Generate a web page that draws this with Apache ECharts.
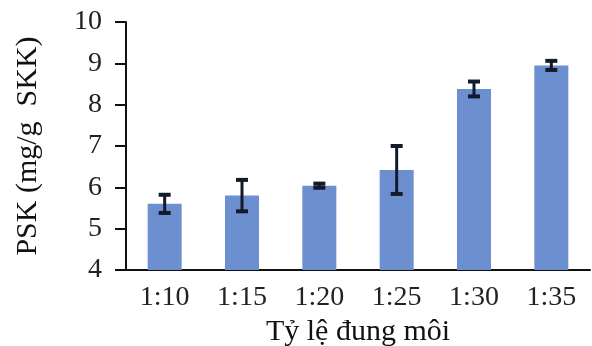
<!DOCTYPE html>
<html>
<head>
<meta charset="utf-8">
<script src="https://cdn.jsdelivr.net/npm/echarts@6/dist/echarts.min.js"></script>
<style>
  html, body { margin: 0; padding: 0; background: #ffffff; }
  #chart { width: 592px; height: 346px; }
</style>
</head>
<body>
<div id="chart"></div>
<script>
// Solvent ratio categories
const ratios = ['1:10', '1:15', '1:20', '1:25', '1:30', '1:35'];
// Mean PSK content (mg/g SKK)
const pskMean = [5.6, 5.8, 6.04, 6.42, 8.38, 8.95];
// Standard deviation for each mean
const pskErr = [0.22, 0.38, 0.05, 0.58, 0.18, 0.11];
// Value axis ticks
const yMin = 4, yMax = 10, yStep = 1;

const fontFamily = '"Liberation Serif", "Times New Roman", serif';
const errData = ratios.map((_, i) => [i, pskMean[i] - pskErr[i], pskMean[i] + pskErr[i]]);

const chart = echarts.init(document.getElementById('chart'));
chart.setOption({
  animation: false,
  grid: { left: 126, right: 2, top: 22, bottom: 76, containLabel: false, outerBoundsMode: 'none' },
  xAxis: {
    type: 'category',
    data: ratios,
    name: 'Tỷ lệ đung môi',
    nameLocation: 'middle',
    nameGap: 47,
    nameTextStyle: { fontFamily, fontSize: 30, color: '#111' },
    axisLine: { lineStyle: { color: '#111', width: 2 } },
    axisTick: { show: false },
    axisLabel: { fontFamily, fontSize: 28, color: '#222', margin: 14 }
  },
  yAxis: {
    type: 'value',
    min: yMin, max: yMax, interval: yStep,
    name: 'PSK (mg/g  SKK)',
    nameLocation: 'middle',
    nameGap: 83,
    nameTextStyle: { fontFamily, fontSize: 30, color: '#111' },
    axisLine: { show: true, lineStyle: { color: '#111', width: 2 } },
    axisTick: { show: true, length: 11, lineStyle: { color: '#111', width: 2 } },
    splitLine: { show: false },
    axisLabel: { fontFamily, fontSize: 28, color: '#222', margin: 24 }
  },
  series: [
    {
      type: 'bar',
      data: pskMean,
      barWidth: '44%',
      itemStyle: { color: '#6c8fcf' }
    },
    {
      type: 'custom',
      data: errData,
      z: 10,
      renderItem: function (params, api) {
        const x = api.value(0);
        const lo = api.coord([x, api.value(1)]);
        const hi = api.coord([x, api.value(2)]);
        const half = 6;
        const capStyle = { stroke: '#131a2c', lineWidth: 4 };
        return {
          type: 'group',
          children: [
            { type: 'line', shape: { x1: hi[0], y1: hi[1], x2: lo[0], y2: lo[1] }, style: { stroke: '#131a2c', lineWidth: 3 } },
            { type: 'line', shape: { x1: hi[0] - half, y1: hi[1], x2: hi[0] + half, y2: hi[1] }, style: capStyle },
            { type: 'line', shape: { x1: lo[0] - half, y1: lo[1], x2: lo[0] + half, y2: lo[1] }, style: capStyle }
          ]
        };
      }
    }
  ]
});
</script>
</body>
</html>
